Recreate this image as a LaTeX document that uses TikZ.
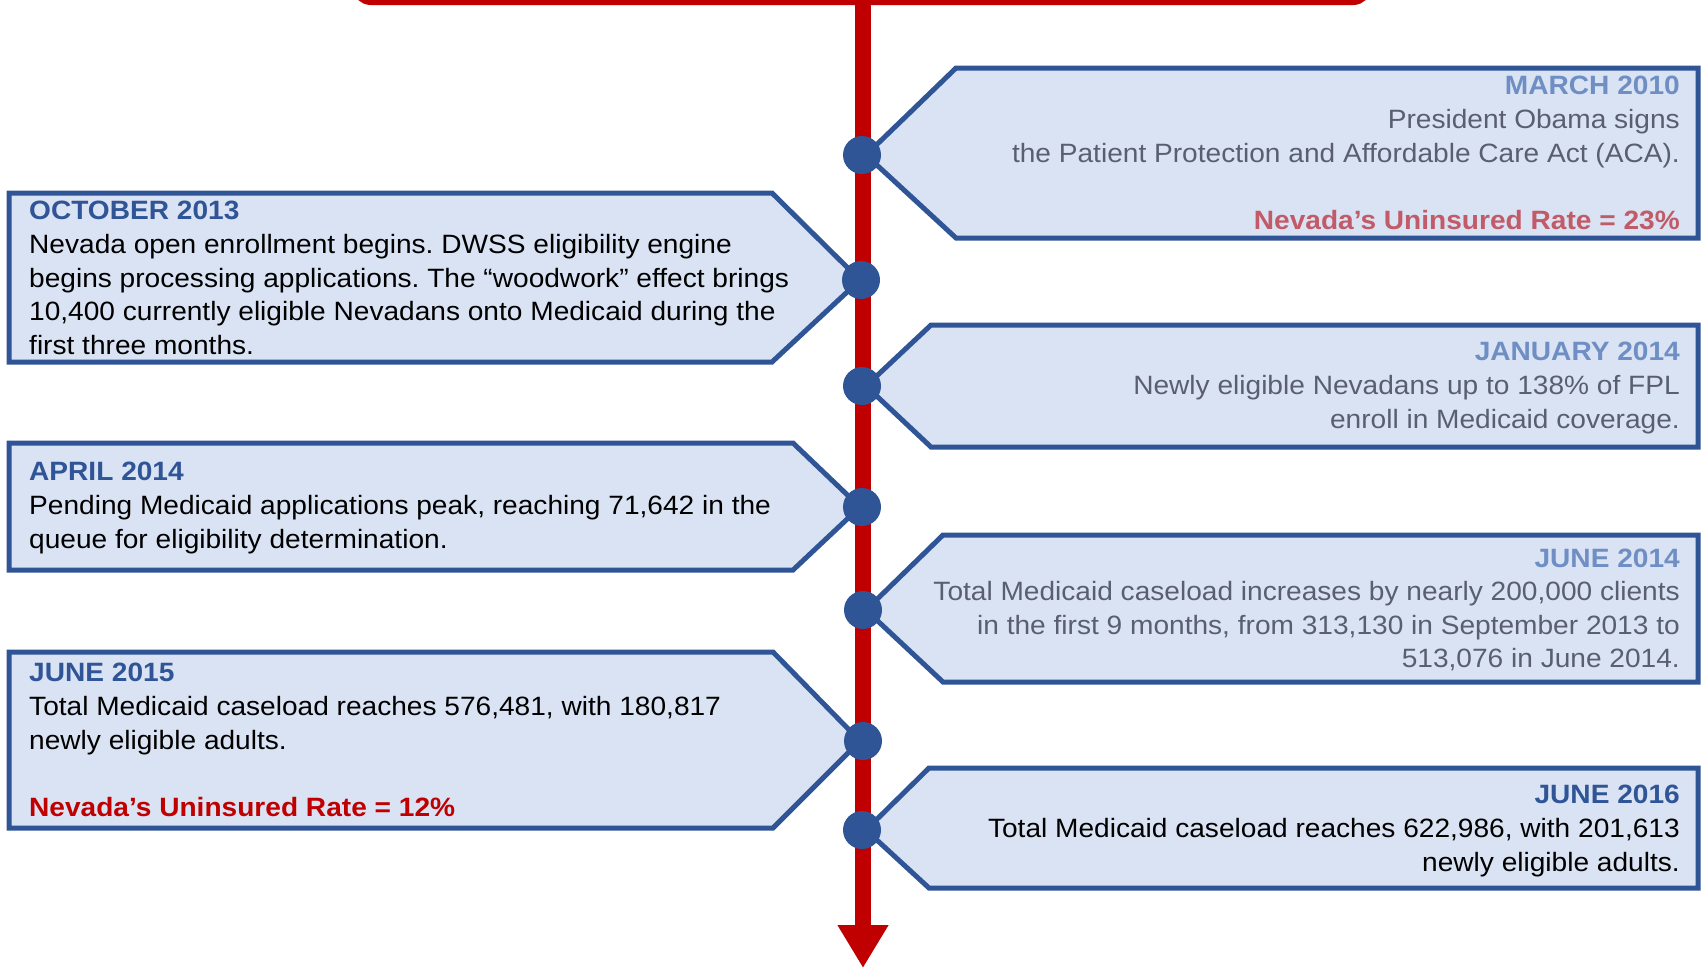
\documentclass[tikz,border=0pt]{standalone}
\usepackage{fontspec}
\setmainfont[FakeStretch=1.06]{Liberation Sans}
\usetikzlibrary{arrows.meta}
\definecolor{tlred}{HTML}{C00000}
\definecolor{tlblue}{HTML}{2F5597}
\definecolor{tlfill}{HTML}{DAE3F3}
\definecolor{fadeblue}{HTML}{6F8FC4}
\definecolor{fadegray}{HTML}{595F6E}
\definecolor{fadered}{HTML}{C25B68}
\frenchspacing

\begin{document}
\begin{tikzpicture}[x=1pt,y=-1pt,
  evbox/.style={draw=tlblue,fill=tlfill,line width=5pt,line join=miter},
  tdot/.style={circle,fill=tlblue,inner sep=0pt,minimum size=38pt},
  evtext/.style={inner sep=0pt,font=\fontsize{26.5}{33.6}\selectfont},
  lefttext/.style={evtext,anchor=west,align=left},
  righttext/.style={evtext,anchor=east,align=right}]
\useasboundingbox (0,0) rectangle (1703,970);

% timeline
\draw[tlred,line width=10pt,rounded corners=14pt] (357,-60) rectangle (1367,0);
\coordinate (top) at (863,0);
\coordinate (end) at (863,968);
\draw[tlred,line width=16pt,-{Triangle[width=48pt,length=43pt]}] (top) -- (end);

% right boxes
\draw[evbox] (866,155) -- (956,68) -- (1698,68) -- (1698,238) -- (956,238) -- cycle;
\draw[evbox] (866,386) -- (931,325) -- (1698,325) -- (1698,447) -- (931,447) -- cycle;
\draw[evbox] (866,610) -- (943,535) -- (1698,535) -- (1698,682) -- (943,682) -- cycle;
\draw[evbox] (866,830) -- (929,768) -- (1698,768) -- (1698,888) -- (929,888) -- cycle;

% left boxes
\draw[evbox] (860,280) -- (772,362) -- (9,362) -- (9,193) -- (772,193) -- cycle;
\draw[evbox] (860,507) -- (793,570) -- (9,570) -- (9,443) -- (793,443) -- cycle;
\draw[evbox] (860,741) -- (773,828) -- (9,828) -- (9,652) -- (773,652) -- cycle;

% dots
\node[tdot] (d1) at (862,155) {};
\node[tdot] (d2) at (861,280) {};
\node[tdot] (d3) at (862,386) {};
\node[tdot] (d4) at (862,507) {};
\node[tdot] (d5) at (863,610) {};
\node[tdot] (d6) at (863,741) {};
\node[tdot] (d7) at (862,830) {};

% texts
\node[righttext,text=fadegray] (mar10) at (1680,153) {{\bfseries\color{fadeblue}MARCH 2010}\\
  President Obama signs\\
  the Patient Protection and Affordable Care Act (ACA).\\[33.6pt]
  {\bfseries\color{fadered}Nevada’s Uninsured Rate = 23\%}};
\node[lefttext] (oct13) at (29,278) {{\bfseries\color{tlblue}OCTOBER 2013}\\
  Nevada open enrollment begins. DWSS eligibility engine\\
  begins processing applications. The “woodwork” effect brings\\
  10,400 currently eligible Nevadans onto Medicaid during the\\
  first three months.};
\node[righttext,text=fadegray] (jan14) at (1680,388) {{\bfseries\color{fadeblue}JANUARY 2014}\\
  Newly eligible Nevadans up to 138\% of FPL\\
  enroll in Medicaid coverage.};
\node[lefttext] (apr14) at (29,508) {{\bfseries\color{tlblue}APRIL 2014}\\
  Pending Medicaid applications peak, reaching 71,642 in the\\
  queue for eligibility determination.};
\node[righttext,text=fadegray] (jun14) at (1680,610) {{\bfseries\color{fadeblue}JUNE 2014}\\
  Total Medicaid caseload increases by nearly 200,000 clients\\
  in the first 9 months, from 313,130 in September 2013 to\\
  513,076 in June 2014.};
\node[lefttext] (jun15) at (29,740) {{\bfseries\color{tlblue}JUNE 2015}\\
  Total Medicaid caseload reaches 576,481, with 180,817\\
  newly eligible adults.\\[33.6pt]
  {\bfseries\color{tlred}Nevada’s Uninsured Rate = 12\%}};
\node[righttext] (jun16) at (1680,831) {{\bfseries\color{tlblue}JUNE 2016}\\
  Total Medicaid caseload reaches 622,986, with 201,613\\
  newly eligible adults.};
\end{tikzpicture}
\end{document}
